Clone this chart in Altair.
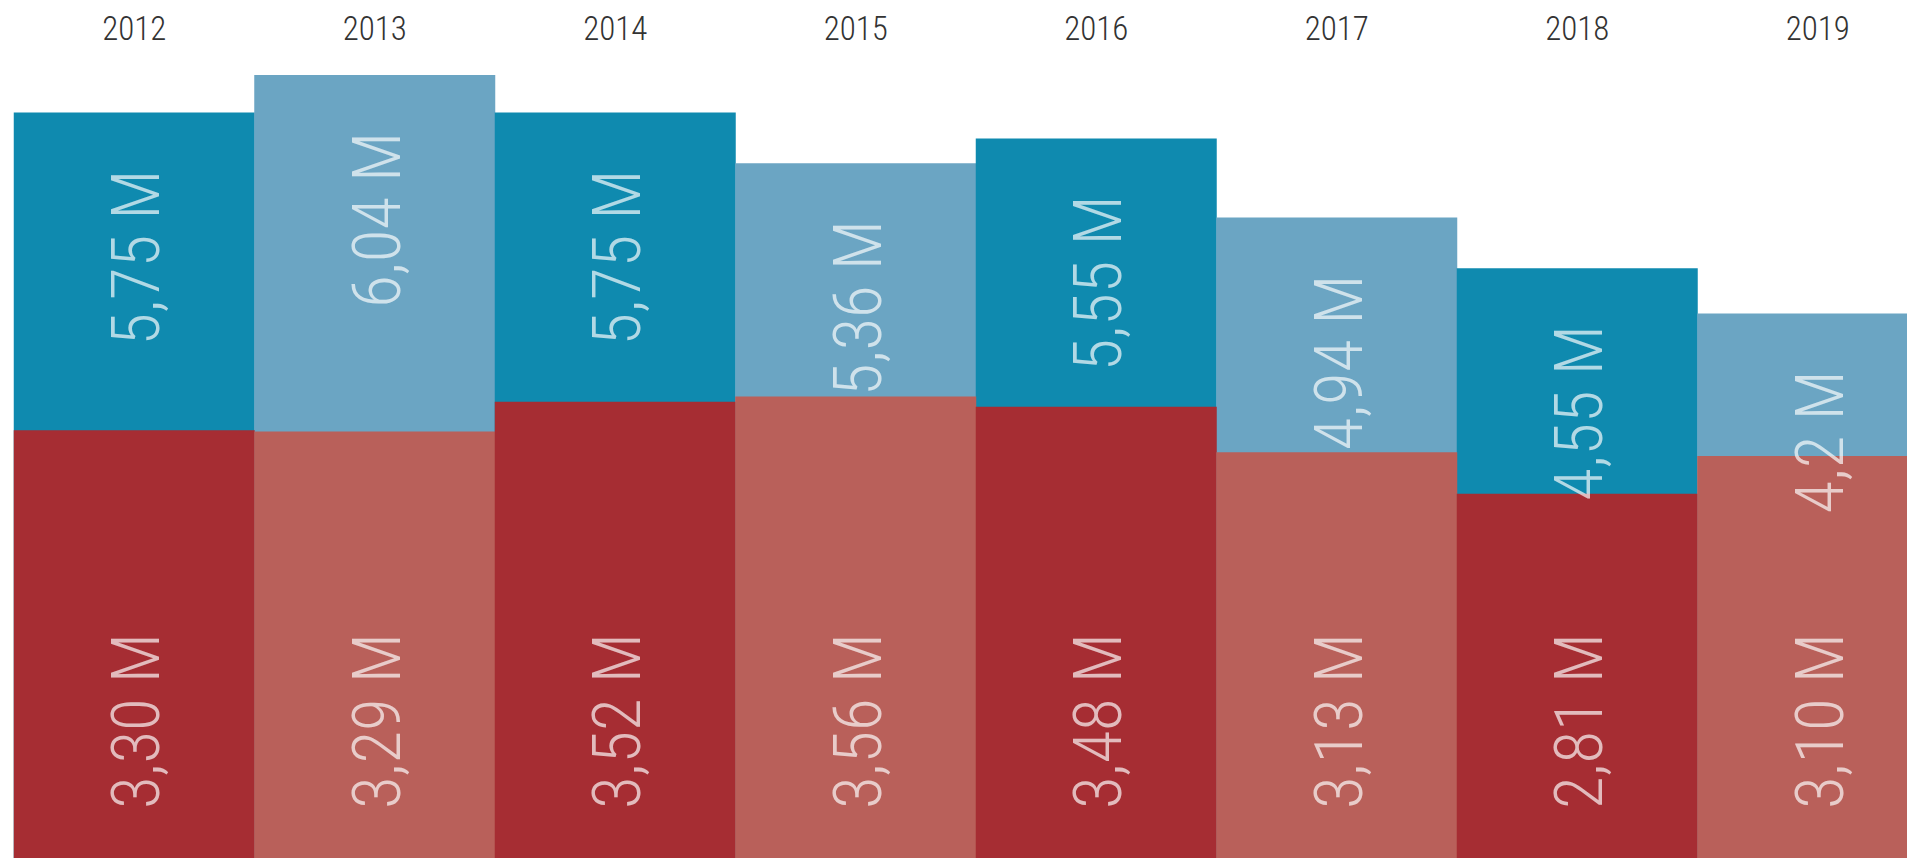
import altair as alt
import pandas as pd

years = ["2012", "2013", "2014", "2015", "2016", "2017", "2018", "2019"]
total_values = [5.75, 6.04, 5.75, 5.36, 5.55, 4.94, 4.55, 4.2]
red_values = [3.30, 3.29, 3.52, 3.56, 3.48, 3.13, 2.81, 3.10]
total_labels = ["5,75 M", "6,04 M", "5,75 M", "5,36 M", "5,55 M", "4,94 M", "4,55 M", "4,2 M"]
red_labels = ["3,30 M", "3,29 M", "3,52 M", "3,56 M", "3,48 M", "3,13 M", "2,81 M", "3,10 M"]
shades = ["dark", "light", "dark", "light", "dark", "light", "dark", "light"]

BLUE = ["#0F8AAF", "#6BA5C3"]
RED = ["#A62D33", "#B9605A"]
FONT = "Roboto Condensed"

df = pd.DataFrame({
    "year": years,
    "total": total_values,
    "red": red_values,
    "total_label": total_labels,
    "red_label": red_labels,
    "shade": shades,
})

x = alt.X("year:N", sort=years, title=None,
          scale=alt.Scale(paddingInner=0, paddingOuter=0, range=[0, 1924]),
          axis=alt.Axis(orient="top", labelAngle=0, domain=False, ticks=False,
                        grid=False, labelFont=FONT, labelFontSize=33,
                        labelFontWeight=300, labelColor="#333333",
                        labelBaseline="alphabetic", labelPadding=9))
yscale = alt.Scale(domain=[0, 810 / 129.64], nice=False, zero=True)

base = alt.Chart(df)

blue_bars = base.mark_bar(size=241).encode(
    x=x,
    y=alt.Y("total:Q", scale=yscale, axis=None, title=None),
    color=alt.Color("shade:N", scale=alt.Scale(domain=["dark", "light"], range=BLUE), legend=None),
)

red_bars = base.mark_bar(size=241).encode(
    x=x,
    y=alt.Y("red:Q", scale=yscale, axis=None, title=None),
    color=alt.Color("shade:N", scale=alt.Scale(domain=["dark", "light"], range=RED), legend=None),
)

blue_text = base.mark_text(angle=270, align="right", baseline="middle", dx=-57, dy=5,
                           font=FONT, fontWeight=300, fontSize=67, color="white", opacity=0.68).encode(
    x=x,
    y=alt.Y("total:Q", scale=yscale, axis=None, title=None),
    text="total_label:N",
)

red_text = base.mark_text(angle=270, align="left", baseline="middle", dx=49, dy=5,
                          font=FONT, fontWeight=300, fontSize=67, color="white", opacity=0.68).encode(
    x=x,
    y=alt.datum(0, scale=yscale),
    text="red_label:N",
)

chart = alt.layer(blue_bars, red_bars, blue_text, red_text).resolve_scale(
    color="independent"
).properties(
    width=1893,
    height=810,
    autosize=alt.AutoSizeParams(type="none"),
    padding={"left": 6, "top": 40, "right": 0, "bottom": 0},
).configure_view(stroke=None)

chart.save("out.html", embed_options={"renderer": "svg", "actions": False})
